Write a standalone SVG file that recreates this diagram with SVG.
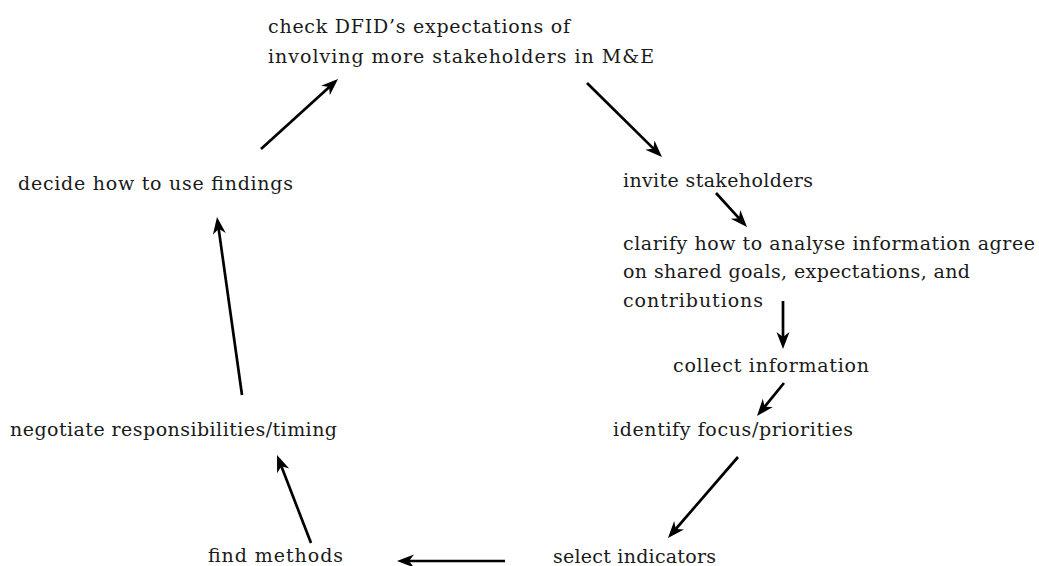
<svg xmlns="http://www.w3.org/2000/svg" width="1039" height="566" viewBox="0 0 1039 566">
<style>
  .lbl { font-family: "DejaVu Serif", "Liberation Serif", serif; font-size: 19px; fill: #1a1a1a; }
  .conn { stroke: #000; stroke-width: 2.7; fill: none; marker-end: url(#ah); }
</style>
<defs>
  <marker id="ah" markerUnits="userSpaceOnUse" markerWidth="22" markerHeight="16" viewBox="-10 -8 22 16" refX="0" refY="0" orient="auto">
    <path d="M8,0 L-9,-6.5 L-4,0 L-9,6.5 Z" fill="#000"/>
  </marker>
</defs>
<rect width="1039" height="566" fill="#fff"/>
<g id="connectors">
  <line class="conn" x1="261" y1="149" x2="332.1" y2="84.4"/>
  <line class="conn" x1="587" y1="83" x2="656.3" y2="151.4"/>
  <line class="conn" x1="716" y1="193" x2="741.6" y2="221.1"/>
  <line class="conn" x1="783" y1="301" x2="783" y2="341"/>
  <line class="conn" x1="784" y1="383" x2="762.1" y2="409.8"/>
  <line class="conn" x1="738" y1="457" x2="673.2" y2="532"/>
  <line class="conn" x1="505" y1="561" x2="405" y2="561"/>
  <line class="conn" x1="311" y1="543" x2="279.9" y2="462.5"/>
  <line class="conn" x1="242" y1="395" x2="218.1" y2="224.9"/>
</g>
<g id="n-check">
  <text class="lbl" x="268" y="33" textLength="302">check DFID’s expectations of</text>
  <text class="lbl" x="268" y="63" textLength="386">involving more stakeholders in M&amp;E</text>
</g>
<g id="n-invite">
  <text class="lbl" x="623" y="187" textLength="190">invite stakeholders</text>
</g>
<g id="n-clarify">
  <text class="lbl" x="623" y="250" textLength="412">clarify how to analyse information agree</text>
  <text class="lbl" x="623" y="278" textLength="347">on shared goals, expectations, and</text>
  <text class="lbl" x="623" y="307" textLength="140">contributions</text>
</g>
<g id="n-collect">
  <text class="lbl" x="673" y="372" textLength="196">collect information</text>
</g>
<g id="n-identify">
  <text class="lbl" x="613" y="436" textLength="240">identify focus/priorities</text>
</g>
<g id="n-select">
  <text class="lbl" x="553" y="563" textLength="163">select indicators</text>
</g>
<g id="n-find">
  <text class="lbl" x="208" y="562" textLength="135">find methods</text>
</g>
<g id="n-negotiate">
  <text class="lbl" x="10" y="436" textLength="327">negotiate responsibilities/timing</text>
</g>
<g id="n-decide">
  <text class="lbl" x="18" y="190" textLength="275">decide how to use findings</text>
</g>
</svg>
